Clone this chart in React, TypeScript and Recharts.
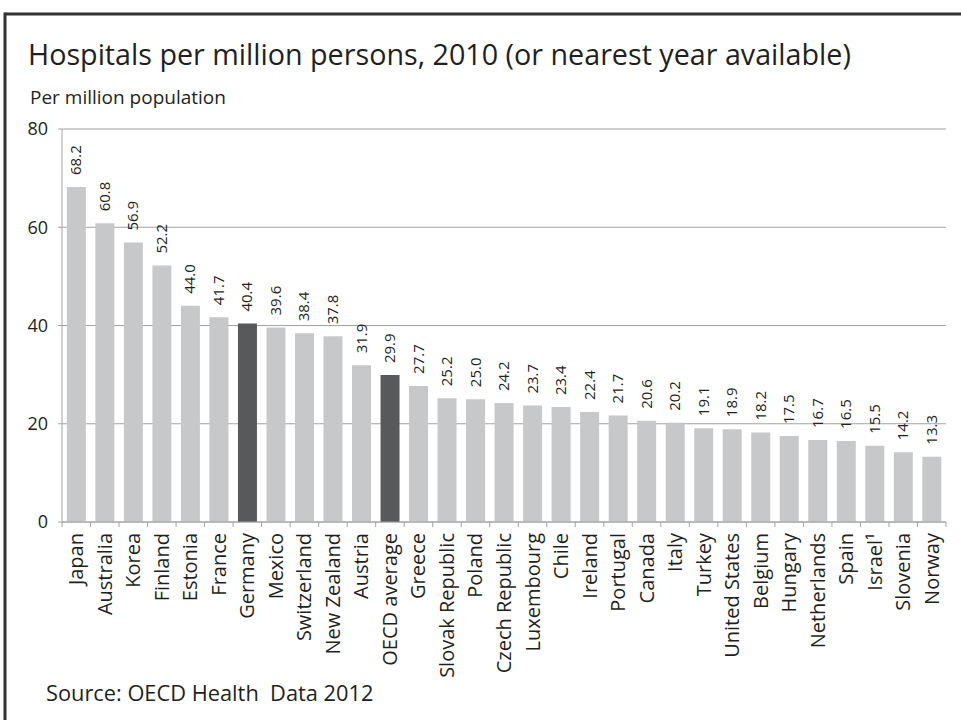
import { BarChart, Bar, XAxis, YAxis, CartesianGrid, Cell, LabelList } from "recharts";

const countries = [
  "Japan", "Australia", "Korea", "Finland", "Estonia", "France", "Germany", "Mexico",
  "Switzerland", "New Zealand", "Austria", "OECD average", "Greece", "Slovak Republic",
  "Poland", "Czech Republic", "Luxembourg", "Chile", "Ireland", "Portugal", "Canada",
  "Italy", "Turkey", "United States", "Belgium", "Hungary", "Netherlands", "Spain",
  "Israel¹", "Slovenia", "Norway",
];
const hospitals = [
  68.2, 60.8, 56.9, 52.2, 44.0, 41.7, 40.4, 39.6, 38.4, 37.8, 31.9, 29.9, 27.7, 25.2,
  25.0, 24.2, 23.7, 23.4, 22.4, 21.7, 20.6, 20.2, 19.1, 18.9, 18.2, 17.5, 16.7, 16.5,
  15.5, 14.2, 13.3,
];
const highlighted = ["Germany", "OECD average"];
const yTicks = [0, 20, 40, 60, 80];

const data = countries.map((country, i) => ({ country, value: hospitals[i] }));

const W = 961;
const H = 720;
const PLOT_LEFT = 62;
const PLOT_RIGHT = 946;
const PLOT_TOP = 129;
const PLOT_BOTTOM = 522;
const HALF_BAND = (PLOT_RIGHT - PLOT_LEFT) / countries.length / 2;

const FONT = "'Open Sans', 'Noto Sans', sans-serif";
const INK = "#231f20";
const GRID = "#a3a3a3";
const LIGHT = "#c7c8ca";
const DARK = "#58595b";

function CountryTick({ x, y, payload, index }: any) {
  const last = index === countries.length - 1;
  return (
    <g>
      <line x1={x - HALF_BAND} x2={x - HALF_BAND} y1={y} y2={y + 5} stroke={GRID} />
      {last && <line x1={x + HALF_BAND} x2={x + HALF_BAND} y1={y} y2={y + 5} stroke={GRID} />}
      <text
        transform={`translate(${x + 7},${y + 11}) rotate(-90)`}
        textAnchor="end"
        fontSize={20}
        fontFamily={FONT}
        fill={INK}
      >
        {payload.value}
      </text>
    </g>
  );
}

function ValueLabel({ x, y, width, value }: any) {
  const cx = Number(x) + Number(width) / 2;
  return (
    <text
      transform={`translate(${cx + 5},${Number(y) - 12}) rotate(-90)`}
      textAnchor="start"
      fontSize={15}
      fontFamily={FONT}
      fill={INK}
    >
      {Number(value).toFixed(1)}
    </text>
  );
}

export default function App() {
  return (
    <div style={{ position: "absolute", left: 0, top: 0, width: W, height: H, background: "#fff" }}>
      <svg width={W} height={H} style={{ position: "absolute", left: 0, top: 0 }}>
        <line x1={5} x2={W} y1={14} y2={14} stroke="#333" strokeWidth={3} />
        <line x1={5} x2={5} y1={12.5} y2={H} stroke="#333" strokeWidth={3} />
        <text x={28} y={65} fontSize={28.7} fontFamily={FONT} fill={INK}>
          Hospitals per million persons, 2010 (or nearest year available)
        </text>
        <text x={30} y={104} fontSize={19} fontFamily={FONT} fill={INK}>
          Per million population
        </text>
        <text x={46} y={701} fontSize={21.8} fontFamily={FONT} fill={INK}>
          {"Source: OECD Health\u00a0 Data 2012"}
        </text>
      </svg>
      <div style={{ position: "absolute", left: 0, top: 0 }}>
        <BarChart
          width={W}
          height={H}
          data={data}
          margin={{ top: PLOT_TOP, right: W - PLOT_RIGHT, left: 2, bottom: 0 }}
          barCategoryGap="17%"
        >
          <CartesianGrid vertical={false} stroke={GRID} />
          <XAxis
            dataKey="country"
            interval={0}
            height={H - PLOT_BOTTOM}
            axisLine={{ stroke: GRID }}
            tickLine={false}
            tickSize={0}
            tickMargin={0}
            tick={<CountryTick />}
          />
          <YAxis
            width={PLOT_LEFT - 2}
            domain={[0, 80]}
            ticks={yTicks}
            axisLine={{ stroke: GRID }}
            tickLine={{ stroke: GRID }}
            tickSize={4}
            tickMargin={10}
            tick={{ fontSize: 18, fill: INK, fontFamily: FONT }}
          />
          <Bar dataKey="value" isAnimationActive={false}>
            {data.map((d) => (
              <Cell key={d.country} fill={highlighted.includes(d.country) ? DARK : LIGHT} />
            ))}
            <LabelList dataKey="value" content={<ValueLabel />} />
          </Bar>
        </BarChart>
      </div>
    </div>
  );
}
